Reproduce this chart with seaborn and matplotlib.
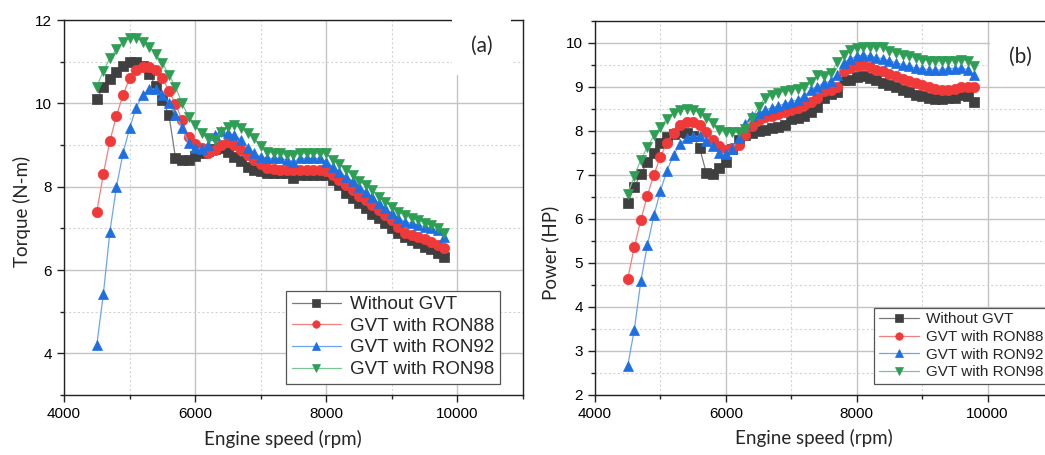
import numpy as np
import pandas as pd
import matplotlib
matplotlib.use('Agg')
import matplotlib.pyplot as plt
from matplotlib.ticker import MultipleLocator
import seaborn as sns

# engine speed (rpm), 4500..9800 step 100
rpm = list(range(4500, 9900, 100))

# Torque (N-m)
torque_base = [10.10, 10.40, 10.58, 10.76, 10.90, 11.00, 11.00, 10.90, 10.70, 10.42,
               10.08, 9.72, 8.70, 8.64, 8.64, 8.74, 8.80, 8.86, 8.90, 8.92,
               8.84, 8.72, 8.62, 8.48, 8.40, 8.38, 8.32, 8.32, 8.32, 8.32,
               8.20, 8.28, 8.28, 8.28, 8.28, 8.28, 8.16, 8.04, 7.84, 7.72,
               7.60, 7.48, 7.34, 7.24, 7.12, 7.00, 6.90, 6.80, 6.72, 6.64,
               6.56, 6.50, 6.40, 6.32]
torque_88 = [7.40, 8.30, 9.10, 9.70, 10.20, 10.60, 10.80, 10.88, 10.88, 10.80,
             10.60, 10.30, 9.98, 9.60, 9.20, 9.02, 8.92, 8.80, 8.88, 9.00,
             9.08, 9.00, 8.88, 8.76, 8.64, 8.54, 8.46, 8.42, 8.40, 8.40,
             8.40, 8.40, 8.40, 8.40, 8.40, 8.38, 8.28, 8.16, 8.04, 7.92,
             7.78, 7.68, 7.56, 7.44, 7.32, 7.20, 7.04, 6.88, 6.84, 6.80,
             6.74, 6.68, 6.60, 6.52]
torque_92 = [4.20, 5.42, 6.92, 8.00, 8.80, 9.40, 9.90, 10.20, 10.34, 10.34,
             10.20, 10.00, 9.72, 9.42, 9.04, 8.92, 8.90, 9.00, 9.24, 9.34,
             9.28, 9.24, 9.12, 8.92, 8.80, 8.72, 8.68, 8.68, 8.68, 8.64,
             8.60, 8.68, 8.68, 8.68, 8.68, 8.60, 8.48, 8.36, 8.24, 8.14,
             8.00, 7.88, 7.76, 7.60, 7.48, 7.36, 7.24, 7.16, 7.12, 7.08,
             7.04, 7.00, 6.96, 6.80]
torque_98 = [10.40, 10.78, 11.08, 11.30, 11.48, 11.58, 11.58, 11.48, 11.36, 11.18,
             10.98, 10.68, 10.40, 10.00, 9.68, 9.48, 9.28, 9.16, 9.12, 9.32,
             9.44, 9.48, 9.40, 9.28, 9.18, 8.98, 8.84, 8.80, 8.80, 8.76,
             8.76, 8.80, 8.80, 8.80, 8.80, 8.80, 8.64, 8.54, 8.40, 8.28,
             8.14, 8.04, 7.92, 7.76, 7.64, 7.52, 7.40, 7.32, 7.24, 7.20,
             7.14, 7.08, 7.02, 6.90]

# Power (HP)
power_base = [6.36, 6.72, 7.03, 7.29, 7.51, 7.73, 7.87, 7.94, 7.98, 7.96,
              7.88, 7.61, 7.05, 7.03, 7.16, 7.30, 7.60, 7.80, 7.90, 7.95,
              7.99, 8.03, 8.06, 8.08, 8.13, 8.27, 8.30, 8.35, 8.43, 8.54,
              8.75, 8.84, 8.88, 9.15, 9.17, 9.22, 9.26, 9.21, 9.15, 9.10,
              9.04, 8.99, 8.94, 8.89, 8.82, 8.79, 8.75, 8.73, 8.73, 8.75,
              8.76, 8.82, 8.79, 8.67]
power_88 = [4.64, 5.36, 5.98, 6.53, 7.01, 7.41, 7.73, 7.95, 8.13, 8.20,
            8.20, 8.13, 7.98, 7.80, 7.67, 7.57, 7.62, 7.69, 7.90, 8.12,
            8.26, 8.31, 8.33, 8.38, 8.44, 8.48, 8.52, 8.58, 8.67, 8.75,
            8.90, 8.94, 9.01, 9.36, 9.43, 9.47, 9.49, 9.45, 9.39, 9.36,
            9.29, 9.24, 9.18, 9.13, 9.09, 9.04, 8.99, 8.96, 8.94, 8.94,
            8.96, 8.99, 8.99, 8.99]
power_92 = [2.66, 3.48, 4.58, 5.40, 6.08, 6.64, 7.10, 7.45, 7.70, 7.85,
            7.88, 7.88, 7.78, 7.65, 7.50, 7.48, 7.60, 7.84, 8.16, 8.33,
            8.41, 8.48, 8.52, 8.57, 8.62, 8.67, 8.71, 8.79, 8.94, 9.01,
            9.09, 9.13, 9.28, 9.55, 9.64, 9.70, 9.72, 9.70, 9.67, 9.64,
            9.60, 9.55, 9.51, 9.47, 9.43, 9.42, 9.39, 9.39, 9.39, 9.42,
            9.42, 9.43, 9.39, 9.28]
power_98 = [6.57, 6.97, 7.35, 7.63, 7.90, 8.10, 8.28, 8.41, 8.48, 8.51,
            8.48, 8.41, 8.29, 8.18, 8.03, 7.98, 7.98, 7.97, 8.05, 8.30,
            8.55, 8.76, 8.82, 8.87, 8.91, 8.94, 8.96, 9.01, 9.11, 9.28,
            9.24, 9.31, 9.56, 9.72, 9.83, 9.89, 9.90, 9.92, 9.92, 9.90,
            9.82, 9.77, 9.73, 9.70, 9.66, 9.62, 9.60, 9.58, 9.58, 9.60,
            9.60, 9.62, 9.60, 9.47]

labels = ['Without GVT', 'GVT with RON88', 'GVT with RON92', 'GVT with RON98']
markers = ['s', 'o', '^', 'v']
mark_colors = ['#3f3f3f', '#F03A3A', '#1E6FE0', '#2E9E55']
line_colors = ['#7a7a7a', '#F57F7F', '#6FA5F0', '#7CC496']

sns.set_theme(style='ticks')
plt.rcParams['font.family'] = ['Liberation Sans', 'DejaVu Sans']
plt.rcParams['axes.edgecolor'] = '#222222'

fig = plt.figure(figsize=(10.45, 4.55), dpi=100)
ax1 = fig.add_axes([64 / 1045, 60 / 455, 459 / 1045, 375 / 455])
ax2 = fig.add_axes([595 / 1045, 60 / 455, 458 / 1045, 374 / 455])


def draw(ax, series, ylim, ymaj, ymin, ylabel, ylab_xy, tag, tag_xy, legend_size, legend_anchor):
    for vals, lab, m, mc, lc in zip(series, labels, markers, mark_colors, line_colors):
        sns.lineplot(x=rpm, y=vals, ax=ax, label=lab, color=lc, linewidth=0.9,
                     marker=m, markersize=7.5, markerfacecolor=mc,
                     markeredgecolor=mc, markeredgewidth=0.5)
    ax.set_xlim(4000, 11000)
    ax.set_ylim(*ylim)
    ax.xaxis.set_major_locator(MultipleLocator(2000))
    ax.xaxis.set_minor_locator(MultipleLocator(1000))
    ax.yaxis.set_major_locator(MultipleLocator(ymaj))
    ax.yaxis.set_minor_locator(MultipleLocator(ymin))
    ax.grid(which='major', color='#c4c4c4', linewidth=1.0)
    ax.grid(which='minor', color='#d4d4d4', linewidth=0.8, linestyle=(0, (2, 2)))
    ax.set_axisbelow(True)
    ax.tick_params(which='major', direction='out', length=5, width=1,
                   labelsize=11, colors='#222222', labelcolor='black')
    ax.tick_params(which='minor', direction='out', length=3, width=1, colors='#222222')
    ax.tick_params(top=False, right=False, which='both')
    for s in ax.spines.values():
        s.set_linewidth(1.0)
    ax.set_xlabel('Engine speed (rpm)', family=['Lato', 'DejaVu Sans'], fontsize=13.5)
    ax.set_ylabel(ylabel, family=['Lato', 'DejaVu Sans'], fontsize=13.5)
    ax.xaxis.set_label_coords(0.477, -0.092)
    ax.yaxis.set_label_coords(*ylab_xy)
    ax.text(tag_xy[0], tag_xy[1], tag, transform=ax.transAxes, fontsize=15,
            family=['Lato', 'DejaVu Sans'], ha='center', va='center',
            bbox=dict(boxstyle='square,pad=0.9', facecolor='white', edgecolor='none'))
    leg = ax.legend(loc='lower right', bbox_to_anchor=legend_anchor, fontsize=legend_size,
                    frameon=True, fancybox=False, edgecolor='#555555', framealpha=1,
                    borderpad=0.3, labelspacing=0.24, handlelength=2.6, markerscale=0.72,
                    handletextpad=0.5, borderaxespad=0)
    leg.get_frame().set_linewidth(0.9)


draw(ax1, [torque_base, torque_88, torque_92, torque_98], (3, 12), 2, 1,
     'Torque (N-m)', (-0.072, 0.49), '(a)', (0.91, 0.93), 13.5, (0.95, 0.03))
draw(ax2, [power_base, power_88, power_92, power_98], (2, 10.5), 1, 0.5,
     'Power (HP)', (-0.079, 0.38), '(b)', (0.928, 0.904), 11, (0.99, 0.03))

fig.savefig('out.png', dpi=100)
